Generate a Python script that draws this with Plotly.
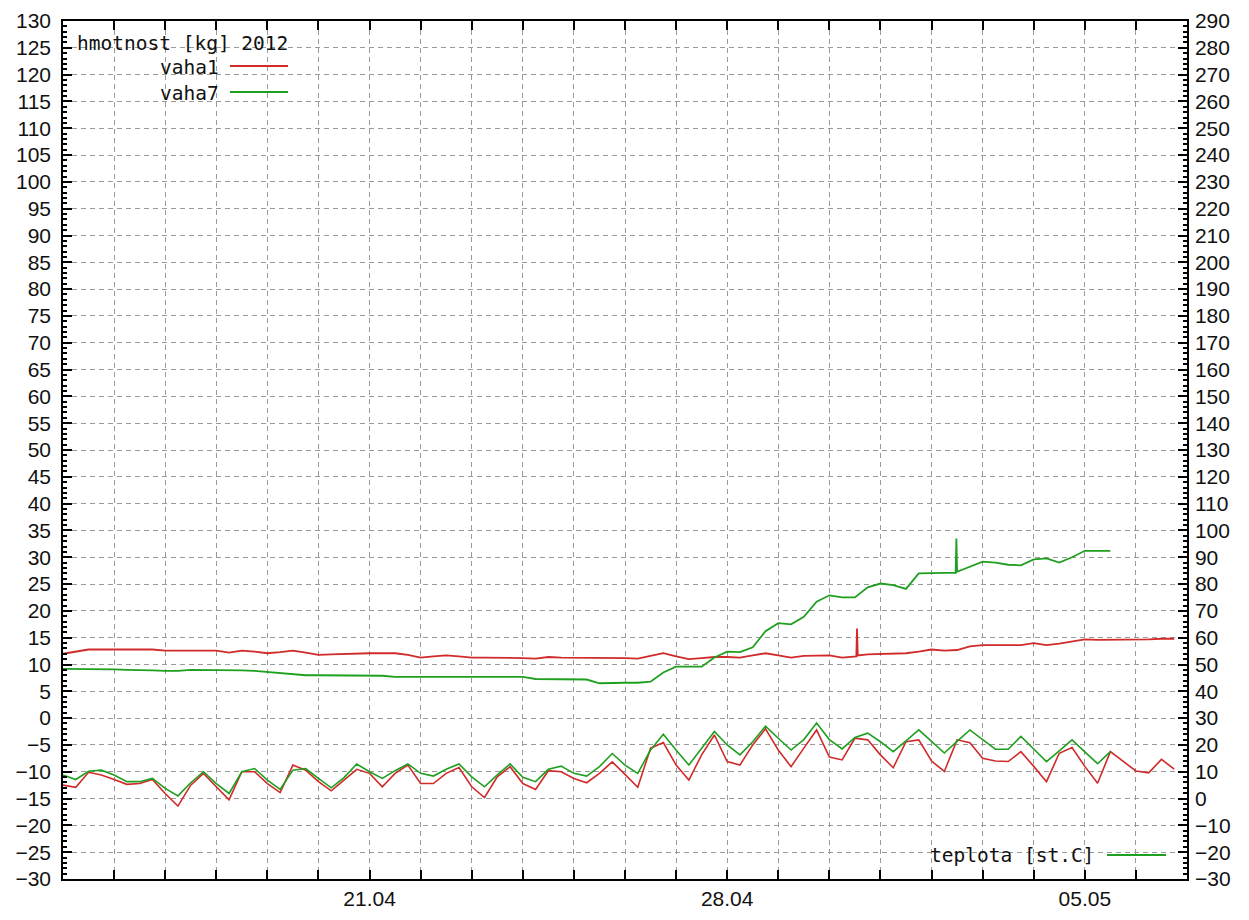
import pandas as pd
import plotly.graph_objects as go

# ---------------- data (6-hourly samples starting 15.04.2012 00:00) ----------------
START = "2012-04-15 00:00"

vaha1 = [12.0, 12.4, 12.8, 12.8,  12.8, 12.8, 12.8, 12.8,  12.6, 12.6, 12.6, 12.6,
         12.6, 12.2, 12.6, 12.4,  12.1, 12.3, 12.6, 12.2,  11.8, 11.9, 12.0, 12.1,
         12.1, 12.1, 12.1, 11.8,  11.3, 11.5, 11.7, 11.5,  11.3, 11.3, 11.3, 11.3,
         11.2, 11.1, 11.4, 11.3,  11.3, 11.3, 11.3, 11.3,  11.2, 11.1, 11.6, 12.1,
         11.5, 11.0, 11.2, 11.4,  11.4, 11.3, 11.7, 12.1,  11.7, 11.3, 11.6, 11.7,
         11.7, 11.3, 11.5, 11.9,  12.0, 12.0, 12.1, 12.4,  12.8, 12.6, 12.7, 13.4,
         13.6, 13.6, 13.6, 13.6,  14.0, 13.6, 13.9, 14.3,  14.7, 14.6, 14.6, 14.7,
         14.7, 14.7, 14.8, 14.8]

vaha7 = [9.2, 9.2, 9.2, 9.2,  9.1, 9.0, 9.0, 8.9,  8.8, 8.8, 9.0, 9.0,
         8.9, 8.9, 8.9, 8.8,  8.6, 8.5, 8.3, 8.0,  8.0, 8.0, 8.0, 8.0,
         8.0, 7.9, 7.7, 7.7,  7.7, 7.7, 7.7, 7.7,  7.7, 7.7, 7.7, 7.7,
         7.7, 7.3, 7.3, 7.2,  7.2, 7.2, 6.5, 6.6,  6.6, 6.6, 6.8, 8.5,
         9.6, 9.6, 9.6, 11.3,  12.4, 12.3, 13.2, 16.2,  17.7, 17.5, 18.9, 21.7,
         22.9, 22.5, 22.5, 24.4,  25.1, 24.8, 24.1, 27.0,  27.1, 27.1, 27.3, 28.3,
         29.2, 29.0, 28.6, 28.5,  29.6, 29.8, 29.0, 30.0,  31.2, 31.2, 31.2]

# short spikes (irregular timestamps)
vaha1_spike_t = ["2012-04-30 12:40", "2012-04-30 13:00", "2012-04-30 13:20"]
vaha1_spike_v = [11.5, 16.7, 11.7]
vaha7_spike_t = ["2012-05-02 11:20", "2012-05-02 11:40"]
vaha7_spike_v = [27.1, 33.5]

teplota1 = [5.0, 4.2, 9.8, 8.8,  7.1, 5.3, 5.6, 7.1,  1.9, -2.8, 5.0, 9.4,
            4.4, -0.5, 10.0, 10.0,  5.6, 2.2, 12.5, 10.6,  6.3, 2.9, 6.9, 10.9,
            9.4, 4.4, 9.4, 12.5,  5.6, 5.6, 9.4, 11.6,  4.4, 0.4, 8.1, 11.9,
            5.6, 3.4, 10.4, 10.0,  7.5, 5.9, 9.4, 13.7,  9.0, 4.2, 18.8, 20.9,
            12.5, 6.9, 16.3, 23.7,  13.8, 12.5, 20.0, 26.0,  18.1, 11.9, 18.8, 25.6,
            15.5, 14.4, 22.5, 21.9,  16.3, 11.5, 21.2, 21.9,  14.0, 10.1, 21.9, 20.8,
            15.0, 14.0, 13.8, 17.5,  12.0, 6.3, 16.9, 19.0,  12.0, 5.7, 17.5, 14.0,
            10.3, 9.6, 14.6, 11.0]

teplota7 = [8.8, 7.1, 10.2, 10.6,  8.8, 6.3, 6.3, 7.5,  3.8, 1.0, 5.9, 10.0,
            5.6, 1.9, 10.0, 11.2,  6.9, 3.4, 10.6, 11.2,  7.5, 4.0, 7.8, 12.9,
            10.0, 7.5, 10.4, 12.9,  9.4, 8.4, 10.9, 12.9,  8.1, 4.4, 8.8, 12.9,
            7.9, 6.3, 10.9, 12.1,  9.4, 8.4, 11.9, 16.8,  12.5, 9.4, 18.1, 24.0,
            18.1, 12.5, 18.8, 25.0,  20.0, 16.3, 21.2, 27.0,  22.5, 18.1, 22.0, 28.2,
            22.0, 18.5, 22.8, 24.4,  21.2, 17.5, 21.5, 25.6,  21.3, 17.0, 21.3, 25.6,
            22.0, 18.4, 18.4, 23.2,  18.5, 13.8, 17.8, 21.9,  17.4, 13.0, 17.5]

x_ticks = ["2012-04-21", "2012-04-28", "2012-05-05"]
x_ticklabels = ["21.04", "28.04", "05.05"]

# ---------------- helpers ----------------
RED = "#d12a2a"
GREEN = "#1f9f1f"
W, H = 1249, 920
PL, PR, PT, PB = 63, 1187, 21, 879   # plot-area edges in pixels


def xp(p):
    return (p - PL) / (PR - PL)


def yp(p):
    return (PB - p) / (PB - PT)


def series(vals, spike_t=None, spike_v=None):
    idx = pd.date_range(START, periods=len(vals), freq="6h")
    s = pd.Series(vals, index=idx)
    if spike_t:
        s = pd.concat([s, pd.Series(spike_v, index=pd.to_datetime(spike_t))]).sort_index()
    return s.index, s.values


fig = go.Figure()

x, y = series(vaha1, vaha1_spike_t, vaha1_spike_v)
fig.add_trace(go.Scatter(x=x, y=y, mode="lines", name="vaha1",
                         line=dict(color=RED, width=1.8), showlegend=False))
x, y = series(vaha7, vaha7_spike_t, vaha7_spike_v)
fig.add_trace(go.Scatter(x=x, y=y, mode="lines", name="vaha7",
                         line=dict(color=GREEN, width=1.8), showlegend=False))
x, y = series(teplota1)
fig.add_trace(go.Scatter(x=x, y=y, mode="lines", name="teplota 1", yaxis="y2",
                         line=dict(color=RED, width=1.6), showlegend=False))
x, y = series(teplota7)
fig.add_trace(go.Scatter(x=x, y=y, mode="lines", name="teplota [st.C]", yaxis="y2",
                         line=dict(color=GREEN, width=1.6), showlegend=False))

GRID = "#9a9a9a"
DASH = "5px,4px"
TICKFONT = dict(family="Liberation Sans, Arial, sans-serif", size=21, color="#111")
MONO = dict(family="DejaVu Sans Mono, monospace", size=19.5, color="#111")

fig.update_layout(
    width=W, height=H,
    margin=dict(l=PL, r=W - PR, t=PT, b=H - PB, autoexpand=False),
    paper_bgcolor="white", plot_bgcolor="white",
    showlegend=False,
    xaxis=dict(
        type="date", range=["2012-04-15 00:00", "2012-05-07 00:00"],
        tickvals=x_ticks, ticktext=x_ticklabels, automargin=False,
        ticks="inside", ticklen=9, tickcolor="black", tickwidth=1.5,
        showline=True, linecolor="black", linewidth=1.5, mirror="allticks",
        showgrid=True, gridcolor=GRID, griddash=DASH, gridwidth=1,
        minor=dict(dtick=86400000, tick0="2012-04-15", ticks="inside", ticklen=5,
                   tickcolor="black", showgrid=True, gridcolor=GRID, griddash=DASH),
        tickfont=TICKFONT, ticklabelstandoff=0, zeroline=False,
    ),
    yaxis=dict(
        range=[-30, 130], tick0=0, dtick=5, automargin=False,
        ticks="inside", ticklen=9, tickcolor="black", tickwidth=1.5,
        showline=True, linecolor="black", linewidth=1.5, mirror=True,
        showgrid=True, gridcolor=GRID, griddash=DASH, gridwidth=1,
        minor=dict(dtick=1, ticks="inside", ticklen=4, tickcolor="black", showgrid=False),
        tickfont=TICKFONT, zeroline=False, ticklabelstandoff=6,
    ),
    yaxis2=dict(
        overlaying="y", side="right", range=[-30, 290], tick0=0, dtick=10, automargin=False,
        ticks="inside", ticklen=9, tickcolor="black", tickwidth=1.5,
        showline=True, linecolor="black", linewidth=1.5,
        showgrid=False, zeroline=False,
        minor=dict(dtick=2, ticks="inside", ticklen=4, tickcolor="black", showgrid=False),
        tickfont=TICKFONT, ticklabelstandoff=2,
    ),
)

# ---------------- gnuplot-style keys (text right-justified, sample on the right) ----------------
annots = [
    dict(text="hmotnost [kg] 2012", x=xp(76), y=yp(43), xanchor="left"),
    dict(text="vaha1", x=xp(220), y=yp(67.5), xanchor="right"),
    dict(text="vaha7", x=xp(220), y=yp(93.5), xanchor="right"),
    dict(text="teplota [st.C]", x=xp(1095), y=yp(855), xanchor="right"),
]
for a in annots:
    fig.add_annotation(xref="paper", yref="paper", yanchor="middle", showarrow=False,
                       font=MONO, borderpad=0, **a)

samples = [(230, 288, 66, RED), (230, 288, 92, GREEN), (1107, 1166, 855, GREEN)]
for x0, x1, yy, c in samples:
    fig.add_shape(type="line", xref="paper", yref="paper",
                  x0=xp(x0), x1=xp(x1), y0=yp(yy), y1=yp(yy),
                  line=dict(color=c, width=1.8))

fig.write_html("out.html", config={"displayModeBar": False},
               post_script="document.body.style.margin='0';document.body.style.padding='0';")
